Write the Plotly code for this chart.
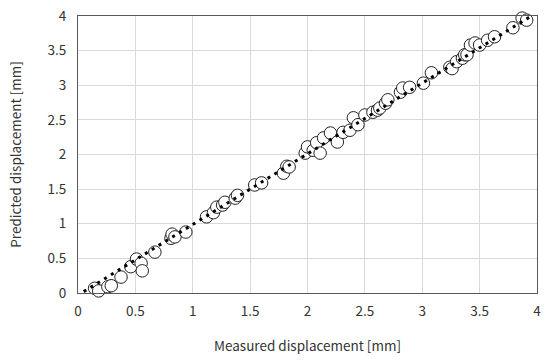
import plotly.graph_objects as go

measured = [0.145, 0.18, 0.26, 0.29, 0.375, 0.46, 0.51, 0.55, 0.56, 0.67,
            0.81, 0.82, 0.845, 0.94, 1.12, 1.18, 1.21, 1.26, 1.28, 1.37,
            1.39, 1.54, 1.60, 1.79, 1.82, 1.84, 1.98, 2.00, 2.05, 2.08,
            2.11, 2.14, 2.20, 2.26, 2.31, 2.37, 2.40, 2.44, 2.50, 2.57,
            2.61, 2.63, 2.68, 2.70, 2.81, 2.83, 2.89, 3.01, 3.08, 3.24,
            3.26, 3.30, 3.35, 3.37, 3.39, 3.42, 3.46, 3.50, 3.57, 3.63,
            3.79, 3.87, 3.91]
predicted = [0.068, 0.03, 0.09, 0.105, 0.23, 0.38, 0.49, 0.43, 0.32, 0.59,
             0.79, 0.85, 0.81, 0.88, 1.10, 1.16, 1.24, 1.27, 1.31, 1.37,
             1.41, 1.56, 1.59, 1.73, 1.83, 1.82, 2.02, 2.11, 2.06, 2.17,
             2.02, 2.24, 2.31, 2.18, 2.32, 2.35, 2.53, 2.43, 2.57, 2.61,
             2.64, 2.67, 2.74, 2.79, 2.90, 2.96, 2.97, 3.03, 3.18, 3.26,
             3.24, 3.34, 3.39, 3.44, 3.44, 3.58, 3.61, 3.58, 3.65, 3.70,
             3.83, 3.97, 3.94]

fit_x = [0.05, 3.95]
fit_y = [0.02, 4.0]

x_ticks = [0, 0.5, 1, 1.5, 2, 2.5, 3, 3.5, 4]
x_tick_labels = ["0", "0.5", "1", "1.5", "2", "2.5", "3", "3.5", "4"]
y_ticks = [0, 0.5, 1, 1.5, 2, 2.5, 3, 3.5, 4]
y_tick_labels = ["0", "0.5", "1", "1.5", "2", "2.5", "3", "3.5", "4"]

font_family = "Noto Sans CJK KR, Noto Sans, sans-serif"
txt = "#333333"

fig = go.Figure()
fig.add_trace(go.Scatter(
    x=measured, y=predicted, mode="markers",
    marker=dict(symbol="circle", size=12.5, color="white",
                line=dict(color="#222222", width=1)),
    showlegend=False, cliponaxis=False,
))
fig.add_trace(go.Scatter(
    x=fit_x, y=fit_y, mode="lines",
    line=dict(color="black", width=3, dash="3px,5px"),
    showlegend=False,
))

axis_common = dict(
    range=[0, 4], showgrid=True, gridcolor="#d9d9d9", gridwidth=1,
    showline=True, linecolor="#595959", linewidth=1, mirror=True,
    zeroline=False, ticks="", automargin=False,
    tickfont=dict(size=13.5, color=txt, family=font_family),
)
fig.update_xaxes(tickvals=x_ticks, ticktext=x_tick_labels, ticklabelstandoff=6,
                 title=dict(text="Measured displacement [mm]", font=dict(size=13.5, color=txt, family=font_family), standoff=22),
                 **axis_common)
fig.update_yaxes(tickvals=y_ticks, ticktext=y_tick_labels, ticklabelstandoff=8,
                 title=dict(text="Predicted displacement [mm]", font=dict(size=13.5, color=txt, family=font_family), standoff=22),
                 **axis_common)

fig.update_layout(
    width=550, height=364,
    margin=dict(l=78, r=13, t=16, b=71),
    plot_bgcolor="white", paper_bgcolor="white",
    font=dict(family=font_family),
)

fig.write_html("out.html", config={"displayModeBar": False},
               post_script="document.body.style.margin='0';document.body.style.overflow='hidden';")
